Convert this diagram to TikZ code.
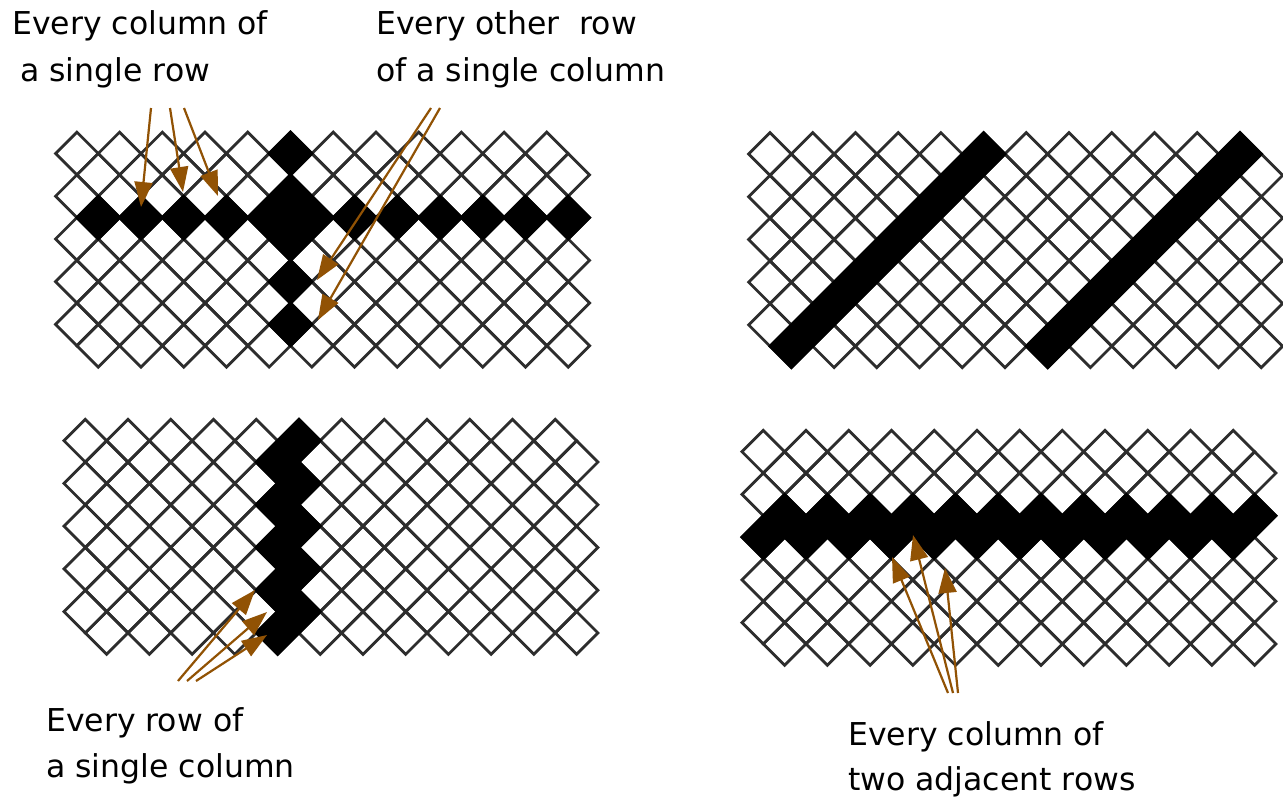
\documentclass[tikz,border=0pt]{standalone}
\usepackage{fontspec}
\setmainfont{DejaVu Sans}
\usetikzlibrary{arrows.meta}
\definecolor{arrowbrown}{RGB}{145,82,4}
\definecolor{gridgray}{RGB}{45,45,45}
\newcommand\hh{21.36}
% #1,#2: centre of cell (0,0); #3: list of black cells a/b
\newcommand\drawpanel[3]{%
  \foreach \rb in {0,...,9}{%
    \pgfmathtruncatemacro\off{mod(\rb,2)}%
    \foreach \ci in {0,...,11}{%
      \pgfmathsetmacro\cx{#1+(2*\ci+\off)*\hh}%
      \pgfmathsetmacro\cy{#2+\rb*\hh}%
      \draw[cellline] (\cx-\hh,\cy) -- (\cx,\cy-\hh) -- (\cx+\hh,\cy) -- (\cx,\cy+\hh) -- cycle;
    }}%
  \foreach \ca/\rb in {#3}{%
    \pgfmathsetmacro\cx{#1+\ca*\hh}%
    \pgfmathsetmacro\cy{#2+\rb*\hh}%
    \filldraw[blackcell] (\cx-\hh,\cy) -- (\cx,\cy-\hh) -- (\cx+\hh,\cy) -- (\cx,\cy+\hh) -- cycle;
  }}
\begin{document}
\begin{tikzpicture}[x=1pt,y=-1pt,
  cellline/.style={draw=gridgray,line width=2.8pt},
  blackcell/.style={fill=black,draw=black,line width=2.8pt},
  lbl/.style={anchor=base west,inner sep=0pt,font=\fontsize{31.5}{40}\selectfont},
  pointer/.style={draw=arrowbrown,line width=2.2pt,-{Triangle[length=25pt,width=18pt]}}]
\useasboundingbox[fill=white] (0,0) rectangle (1283,798);

% panels
\drawpanel{76.9}{153.5}{1/3,3/3,5/3,7/3,9/3,11/3,13/3,15/3,17/3,19/3,21/3,23/3,10/0,10/2,10/4,10/6,10/8}
\drawpanel{770}{154}{10/0,9/1,8/2,7/3,6/4,5/5,4/6,3/7,2/8,1/9,22/0,21/1,20/2,19/3,18/4,17/5,16/6,15/7,14/8,13/9}
\drawpanel{85.3}{440.7}{10/0,9/1,10/2,9/3,10/4,9/5,10/6,9/7,10/8,9/9}
\drawpanel{763.3}{451.7}{1/3,3/3,5/3,7/3,9/3,11/3,13/3,15/3,17/3,19/3,21/3,23/3,0/4,2/4,4/4,6/4,8/4,10/4,12/4,14/4,16/4,18/4,20/4,22/4}

% labels
\node[lbl] (l1a) at (12,34) {Every column of};
\node[lbl] (l1b) at (20,81) {a single row};
\node[lbl] (l2a) at (376,34) {Every other \ row};
\node[lbl] (l2b) at (376,81) {of a single column};
\node[lbl] (l3a) at (46,731) {Every row of};
\node[lbl] (l3b) at (46,777) {a single column};
\node[lbl] (l4a) at (848,745) {Every column of};
\node[lbl] (l4b) at (848,790) {two adjacent rows};

% arrow coordinates
\coordinate (a1s) at (151,108); \coordinate (a1t) at (141,207);
\coordinate (a2s) at (170,108); \coordinate (a2t) at (183,192);
\coordinate (a3s) at (184,108); \coordinate (a3t) at (218,196);
\coordinate (b1s) at (431,108); \coordinate (b1t) at (317,280);
\coordinate (b2s) at (440,108); \coordinate (b2t) at (318,320);
\coordinate (c1s) at (178,681); \coordinate (c1t) at (255,590);
\coordinate (c2s) at (187,681); \coordinate (c2t) at (267,612);
\coordinate (c3s) at (196,681); \coordinate (c3t) at (267,635);
\coordinate (d1s) at (948,693); \coordinate (d1t) at (892,557);
\coordinate (d2s) at (953,693); \coordinate (d2t) at (913,535);
\coordinate (d3s) at (958,693); \coordinate (d3t) at (945,568);

\foreach \p in {a1,a2,a3,b1,b2,c1,c2,c3,d1,d2,d3}
  \draw[pointer] (\p s) -- (\p t);
\end{tikzpicture}
\end{document}
